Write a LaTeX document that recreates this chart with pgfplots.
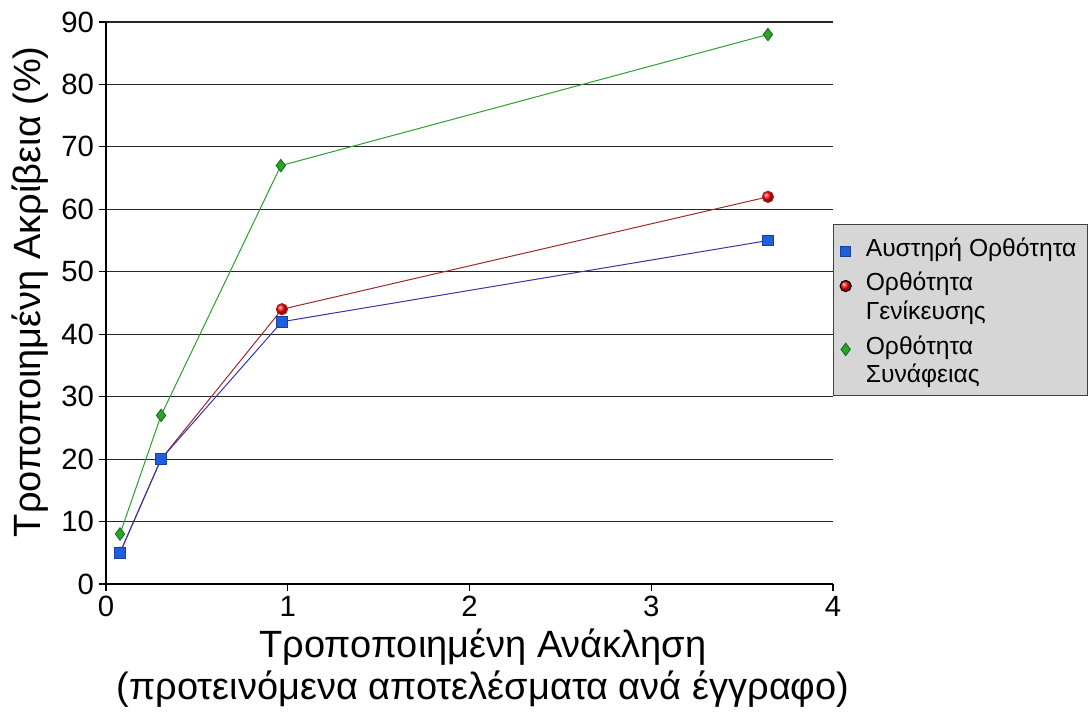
\documentclass[border=0pt]{standalone}
\usepackage{pgfplots}
\pgfplotsset{compat=1.18}
\usepackage{fontspec}
\setmainfont{Liberation Sans}
\usetikzlibrary{calc}
\definecolor{bluemk}{HTML}{1F5FDB}
\definecolor{blueln}{HTML}{3535A8}
\definecolor{redln}{HTML}{A02828}
\definecolor{greenmk}{HTML}{2AA52A}
\definecolor{greenln}{HTML}{2E9E2E}
\definecolor{legfill}{HTML}{D6D6D6}
\newcommand{\first}[1]{\rule{0pt}{20.5pt}#1}
\newcommand{\last}[1]{\rule{0pt}{16pt}#1}
\begin{document}
\begin{tikzpicture}
\begin{axis}[
  scale only axis, width=545.25pt, height=421.5pt,
  xmin=0, xmax=4, ymin=0, ymax=90,
  xtick={0,1,2,3,4}, ytick={0,10,...,90},
  axis x line*=bottom, axis y line*=left,
  axis line style={-, black, line width=0.8pt},
  ymajorgrids, grid style={black!85, line width=0.8pt},
  tick style={black, line width=0.8pt},
  tick align=outside, major tick length=5.5pt,
  /pgf/number format/assume math mode=true,
  ticklabel style={font=\fontsize{22}{26}\selectfont},
  xlabel={Τροποποιημένη Ανάκληση\\(προτεινόμενα αποτελέσματα ανά έγγραφο)},
  xlabel style={at={(axis description cs:0.5186,0)}, anchor=center, yshift=-63pt, align=center, font=\fontsize{28.5}{31.5}\selectfont},
  ylabel={Τροποποιημένη Ακρίβεια (\%)},
  ylabel style={at={(axis description cs:-0.1045,0.52)}, anchor=center, font=\fontsize{28.5}{31.5}\selectfont},
  legend style={at={(1,0.6406)}, anchor=north west, fill=legfill, draw=black!75, line width=0.8pt,
    font=\fontsize{18.5}{20}\selectfont, row sep=0pt, column sep=8.5pt, inner xsep=4.5pt, inner ysep=5.75pt,
    cells={anchor=base west, inner sep=0pt}},
  legend image code/.code={\draw[yshift=0.36em] plot[only marks] coordinates {(0pt,0pt)};},
]
\coordinate (sw) at (rel axis cs:0,0);
\coordinate (ne) at (rel axis cs:1,1);
\addlegendimage{mark=square*, mark size=3.6pt, mark options={fill=bluemk, draw=bluemk!70!black}}
\addlegendentry{\last{\makebox[160pt][l]{Αυστηρή Ορθότητα}}}
\addlegendimage{mark=ball, mark size=4.2pt, mark options={ball color=red}}
\addlegendentry{\first{Ορθότητα}}
\addlegendimage{empty legend}
\addlegendentry{\last{Γενίκευσης}}
\addlegendimage{mark=diamond*, mark size=4.6pt, mark options={fill=greenmk, draw=greenmk!70!black}}
\addlegendentry{\first{Ορθότητα}}
\addlegendimage{empty legend}
\addlegendentry{\last{Συνάφειας}}
\addplot[forget plot, redln, line width=0.75pt, mark=ball, mark size=4.2pt, mark options={ball color=red}] coordinates {
(0.077,5) (0.303,20) (0.968,44) (3.642,62)};
\addplot[forget plot, greenln, line width=0.75pt, mark=diamond*, mark size=4.6pt, mark options={fill=greenmk, draw=greenmk!70!black}] coordinates {
(0.077,8) (0.303,27) (0.962,67) (3.642,88)};
\addplot[forget plot, blueln, line width=0.75pt, mark=square*, mark size=4pt, mark options={fill=bluemk, draw=bluemk!70!black}] coordinates {
(0.077,5) (0.303,20) (0.968,42) (3.642,55)};
\end{axis}
\pgfresetboundingbox
\path ($(sw)+(-79.5pt,-98.25pt)$) rectangle ($(ne)+(191.25pt,16.5pt)$);
\end{tikzpicture}
\end{document}
